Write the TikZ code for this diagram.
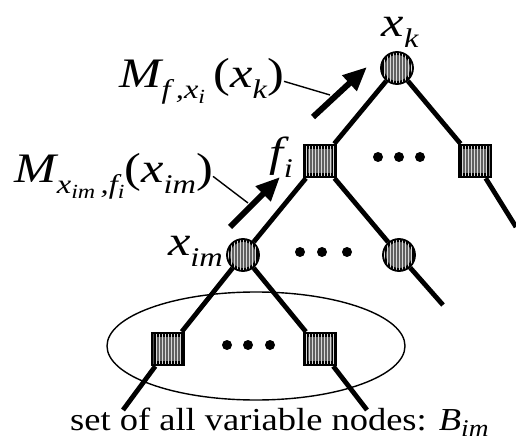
\documentclass[tikz,border=0pt]{standalone}
\usepackage{fontspec}
\setmainfont{Liberation Serif}
\usetikzlibrary{arrows.meta,backgrounds,shapes.geometric,patterns}
\newcommand{\sbA}[1]{\raisebox{-0.24em}{\fontsize{27}{29}\selectfont #1}}
\newcommand{\sbB}[1]{\raisebox{-0.2em}{\fontsize{20}{22}\selectfont #1}}
\newcommand{\sbC}[1]{\raisebox{-0.2em}{\fontsize{24}{26}\selectfont #1}}
\newcommand{\wide}[1]{\scalebox{1.2}[1]{#1}}
\tikzset{
  varnode/.style={circle, draw=black, line width=3.8pt, fill=black!62, minimum size=30pt, inner sep=0pt,
    postaction={pattern=vertical lines, pattern color=white!85!black}},
  facnode/.style={rectangle, draw=black, line width=5.5pt, fill=black!62, minimum size=29pt, inner sep=0pt,
    postaction={pattern=vertical lines, pattern color=white!85!black}},
  treeedge/.style={line width=4.8pt},
  dotnode/.style={circle, fill=black, minimum size=10pt, inner sep=0pt},
  msgarrow/.style={line width=6pt, -{Triangle[length=24pt,width=20pt]}},
  leader/.style={line width=1.4pt},
  bigmath/.style={font=\fontsize{42}{44}\selectfont\itshape, inner sep=0pt},
  plaintext/.style={font=\fontsize{32}{34}\selectfont, inner sep=0pt}
}
\begin{document}
\begin{tikzpicture}[x=1pt,y=-1pt]
\useasboundingbox (0,0) rectangle (516,443);
% nodes
\node[varnode] (xk) at (397,68) {};
\node[facnode] (fi) at (320,161) {};
\node[facnode] (fr) at (475,161) {};
\node[varnode] (xim) at (243,255) {};
\node[varnode] (xr) at (399,255) {};
\node[facnode] (bl) at (168,349) {};
\node[facnode] (br) at (320,349) {};
% dots
\node[dotnode] (d1) at (378,157) {};
\node[dotnode] (d2) at (399,157) {};
\node[dotnode] (d3) at (420,157) {};
\node[dotnode] (d4) at (300,252) {};
\node[dotnode] (d5) at (322,252) {};
\node[dotnode] (d6) at (347,252) {};
\node[dotnode] (d7) at (227,345) {};
\node[dotnode] (d8) at (248,345) {};
\node[dotnode] (d9) at (270,345) {};
% free ends
\coordinate (efr) at (516,227);
\coordinate (exr) at (443,305);
\coordinate (ebl) at (123,410);
\coordinate (ebr) at (367,410);
\coordinate (a1s) at (313,117);
\coordinate (a1e) at (367,67);
\coordinate (a2s) at (230,227);
\coordinate (a2e) at (280,177);
\coordinate (l1e) at (330,95);
\coordinate (l2e) at (248,203);
% labels
\node[bigmath, anchor=base] (lk) at (400,37) {\wide{x\sbA{k}}};
\node[bigmath, anchor=base east] (lf) at (293,167) {\wide{f\sbA{i}}};
\node[bigmath, anchor=base east] (lx) at (223,256) {\wide{x\sbA{im}}};
\node[bigmath, anchor=base east] (lab1) at (284,88) {\wide{M\sbA{f\,,x\sbB{i}}\,\textup{(}x\sbA{k}\textup{)}}};
\node[bigmath, anchor=base east] (lab2) at (213,183) {\wide{M\sbA{x\sbB{im}\,,f\sbB{i}}\textup{(}x\sbA{im}\textup{)}}};
\node[plaintext, anchor=base west] (set) at (70,430) {\scalebox{1.14}[1]{set of all variable nodes: \textit{B}\sbC{\textit{im}}}};
% ellipse
\node[draw, ellipse, line width=1.4pt, minimum width=298pt, minimum height=108pt, inner sep=0pt] (grp) at (256,346) {};
\begin{pgfonlayer}{background}
\draw[treeedge] (xk) -- (fi);
\draw[treeedge] (xk) -- (fr);
\draw[treeedge] (fr) -- (efr);
\draw[treeedge] (fi) -- (xim);
\draw[treeedge] (fi) -- (xr);
\draw[treeedge] (xr) -- (exr);
\draw[treeedge] (xim) -- (bl);
\draw[treeedge] (xim) -- (br);
\draw[treeedge] (bl) -- (ebl);
\draw[treeedge] (br) -- (ebr);
\end{pgfonlayer}
\draw[msgarrow] (a1s) -- (a1e);
\draw[msgarrow] (a2s) -- (a2e);
\draw[leader] (lab1.east) -- (l1e);
\draw[leader] (lab2.east) -- (l2e);
\end{tikzpicture}
\end{document}
